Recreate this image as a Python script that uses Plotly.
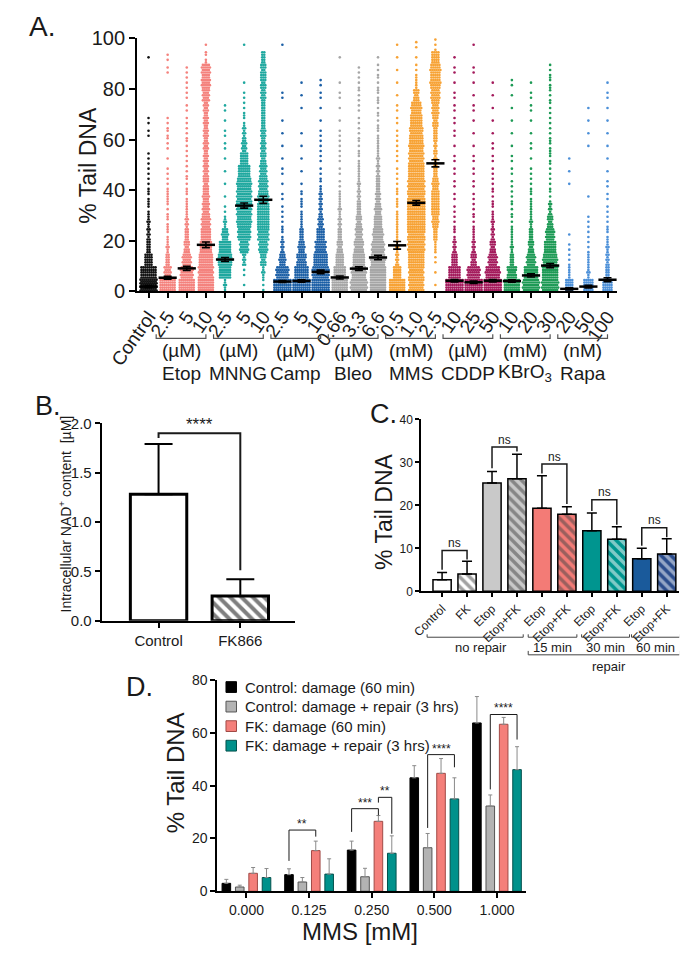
import numpy as np
import plotly.graph_objects as go

W, H = 685, 955
FONT = "Liberation Sans, Arial, Helvetica, sans-serif"
INK = "#1a1a1a"


def fx(p):
    return p / W


def fy(p):
    return 1 - p / H


# ---------------- Panel A data ----------------
a_ticklabels = ["Control", "2.5", "5", "10", "2.5", "5", "10", "2.5", "5", "10",
                "0.66", "3.3", "6.6", "0.5", "1.0", "2.5", "10", "25", "50",
                "10", "20", "30", "20", "50", "100"]
a_group_names = ["Etop", "MNNG", "Camp", "Bleo", "MMS", "CDDP", "KBrO<sub>3</sub>", "Rapa"]
a_group_units = ["(µM)", "(µM)", "(µM)", "(µM)", "(mM)", "(µM)", "(mM)", "(nM)"]
a_control_color = "#111111"
a_group_colors = ["#f4827d", "#1fa89f", "#1b5fa6", "#a6a6a6", "#f7a234", "#a3195b", "#1d9a55", "#4b8fd8"]
a_bin_width = 5  # % Tail DNA per histogram bin (0-5, 5-10, ... 95-100)

# number of comets per 5 % bin
counts_control = [60, 40, 20, 10, 8, 6, 4, 4, 3, 2, 3, 0, 2, 2, 0, 0, 0, 0, 1, 0]
counts_etop = [
    [40, 18, 10, 6, 4, 4, 3, 5, 3, 2, 1, 2, 4, 2, 0, 0, 0, 2, 2, 0],
    [40, 32, 22, 14, 10, 7, 5, 4, 3, 3, 2, 3, 3, 2, 2, 2, 3, 2, 0, 0],
    [40, 38, 35, 30, 25, 22, 18, 16, 14, 13, 12, 12, 12, 12, 12, 18, 22, 22, 4, 1],
]
counts_mnng = [
    [6, 30, 36, 30, 16, 6, 2, 1, 1, 1, 1, 2, 2, 1, 2, 0, 0, 0, 0, 0],
    [1, 2, 8, 22, 32, 36, 38, 38, 36, 30, 20, 12, 8, 4, 3, 2, 1, 0, 0, 1],
    [3, 6, 14, 22, 28, 30, 30, 26, 22, 18, 14, 12, 12, 10, 10, 12, 14, 14, 10, 0],
]
counts_camp = [
    [45, 32, 16, 8, 4, 3, 2, 2, 1, 2, 1, 1, 1, 1, 0, 2, 0, 0, 0, 1],
    [45, 35, 24, 16, 10, 5, 4, 4, 1, 1, 1, 1, 1, 0, 1, 1, 1, 0, 0, 0],
    [45, 42, 35, 28, 20, 12, 8, 7, 4, 2, 2, 3, 2, 1, 1, 2, 2, 0, 0, 0],
]
counts_bleo = [
    [40, 30, 20, 14, 10, 7, 6, 5, 2, 2, 2, 3, 2, 1, 1, 2, 1, 0, 1, 0],
    [42, 36, 30, 24, 18, 14, 10, 8, 6, 5, 4, 3, 3, 2, 2, 3, 3, 2, 0, 0],
    [40, 40, 36, 32, 26, 20, 16, 12, 10, 8, 6, 5, 4, 3, 3, 4, 3, 3, 1, 0],
]
counts_mms = [
    [40, 20, 8, 6, 5, 5, 4, 4, 3, 2, 2, 3, 2, 2, 2, 1, 1, 1, 1, 1],
    [38, 38, 40, 42, 44, 45, 45, 44, 42, 40, 38, 36, 34, 30, 26, 14, 5, 3, 1, 2],
    [1, 1, 2, 5, 10, 16, 20, 20, 16, 10, 8, 8, 10, 14, 18, 22, 26, 26, 20, 3],
]
counts_cddp = [
    [45, 30, 15, 8, 4, 3, 2, 2, 2, 2, 2, 1, 2, 2, 2, 2, 1, 2, 1, 0],
    [45, 32, 14, 8, 5, 3, 3, 2, 2, 2, 2, 1, 1, 1, 2, 1, 1, 2, 0, 1],
    [45, 36, 22, 14, 8, 6, 4, 3, 3, 2, 2, 2, 1, 1, 1, 1, 1, 0, 0, 0],
]
counts_kbro3 = [
    [40, 24, 10, 6, 5, 3, 3, 3, 2, 2, 2, 1, 1, 1, 1, 1, 2, 0, 0, 0],
    [42, 35, 22, 14, 10, 6, 5, 4, 3, 2, 1, 2, 1, 1, 2, 2, 1, 0, 0, 0],
    [42, 40, 36, 30, 22, 14, 8, 3, 3, 2, 4, 4, 3, 2, 3, 3, 4, 3, 0, 0],
]
counts_rapa = [
    [20, 5, 3, 2, 1, 0, 0, 0, 1, 1, 1, 0, 0, 0, 0, 0, 0, 0, 0, 0],
    [25, 6, 5, 3, 2, 3, 0, 1, 0, 0, 0, 1, 1, 1, 1, 0, 0, 0, 0, 0],
    [25, 10, 8, 6, 4, 3, 2, 2, 2, 1, 1, 1, 1, 1, 1, 2, 1, 0, 0, 0],
]
a_group_counts = [counts_etop, counts_mnng, counts_camp, counts_bleo,
                  counts_mms, counts_cddp, counts_kbro3, counts_rapa]

a_means = [1.9, 5.4, 9.1, 18.4, 12.6, 33.9, 36.2, 3.9, 4.1, 7.7, 5.5, 9.0, 13.4,
           18.2, 35.0, 50.6, 4.2, 3.6, 4.2, 4.1, 6.3, 10.2, 1.0, 1.9, 4.6]
a_sem = [0.4, 0.6, 0.8, 1.1, 0.8, 1.0, 1.4, 0.4, 0.5, 0.7, 0.6, 0.7, 0.9,
         1.5, 0.9, 1.4, 0.5, 0.5, 0.5, 0.5, 0.6, 0.8, 0.4, 0.5, 0.8]

# ---------------- Panel B data ----------------
b_labels = ["Control", "FK866"]
b_values = [1.28, 0.25]
b_err_top = [1.79, 0.42]

# ---------------- Panel C data ----------------
c_labels = ["Control", "FK", "Etop", "Etop+FK", "Etop", "Etop+FK", "Etop", "Etop+FK", "Etop", "Etop+FK"]
c_values = [2.7, 4.0, 25.2, 26.2, 19.3, 17.9, 14.1, 12.1, 7.6, 8.7]
c_err_top = [4.4, 7.0, 27.9, 31.9, 26.9, 19.7, 18.2, 15.0, 10.0, 12.2]
c_colors = ["#ffffff", "#ffffff", "#c9c9c9", "#c9c9c9", "#f37b76", "#f37b76",
            "#00958f", "#00958f", "#1a5a9b", "#2b4c8c"]
c_hatched = [False, True, False, True, False, True, False, True, False, True]

# ---------------- Panel D data ----------------
d_doses = ["0.000", "0.125", "0.250", "0.500", "1.000"]
d_names = ["Control: damage (60 min)", "Control: damage + repair (3 hrs)",
           "FK: damage (60 min)", "FK: damage + repair (3 hrs)"]
d_ctrl_damage = [3.0, 6.3, 15.6, 43.0, 63.8]
d_ctrl_damage_top = [4.5, 8.5, 19.0, 47.6, 73.8]
d_ctrl_repair = [1.6, 3.5, 5.5, 16.5, 32.3]
d_ctrl_repair_top = [2.3, 5.2, 8.7, 21.9, 36.5]
d_fk_damage = [6.8, 15.4, 26.5, 44.7, 63.3]
d_fk_damage_top = [9.0, 19.0, 28.7, 50.3, 65.9]
d_fk_repair = [5.2, 6.5, 14.4, 35.0, 46.1]
d_fk_repair_top = [8.6, 12.3, 21.0, 43.0, 54.8]
d_colors = ["#000000", "#b3b3b3", "#f47f7a", "#00918b"]
d_edge = ["#000000", "#555555", "#a04a46", "#03504c"]


# ---------------- helpers ----------------
def swarm_points(col, counts, dx=0.105, max_row=9):
    xs, ys = [], []
    for b, n in enumerate(counts):
        if n == 0:
            continue
        nrows = max(5, int(np.ceil(n / max_row)))
        rowh = a_bin_width / nrows
        per = {}
        if n <= nrows:
            for k in range(n):
                per[int((k + 0.5) * nrows / n)] = 1
        else:
            base, extra = divmod(n, nrows)
            extra_rows = set(int((k + 0.5) * nrows / extra) for k in range(extra)) if extra else set()
            for r in range(nrows):
                per[r] = base + (1 if r in extra_rows else 0)
        for r, k in per.items():
            yv = b * a_bin_width + (r + 0.5) * rowh
            for j in range(k):
                xs.append(col + (j - (k - 1) / 2) * dx)
                ys.append(yv)
    return xs, ys


fig = go.Figure()
shapes = []
annotations = []


def text(x, y, s, size, xref="paper", yref="paper", angle=0, xanchor="center", yanchor="middle"):
    annotations.append(dict(x=x, y=y, xref=xref, yref=yref, text=s, showarrow=False,
                            font=dict(family=FONT, size=size, color=INK), textangle=angle,
                            xanchor=xanchor, yanchor=yanchor))


def bracket(xa, xb, ytop, ya, yb, xref, yref, width=1.2, color=INK):
    shapes.append(dict(type="path", xref=xref, yref=yref,
                       path=f"M {xa},{ya} L {xa},{ytop} L {xb},{ytop} L {xb},{yb}",
                       line=dict(color=color, width=width)))


# ---------------- Panel A ----------------
col_counts = [counts_control] + [c for grp in a_group_counts for c in grp]
col_colors = [a_control_color] + [a_group_colors[g] for g in range(8) for _ in range(3)]
for i, (cnt, colr) in enumerate(zip(col_counts, col_colors)):
    xs, ys = swarm_points(i, cnt)
    fig.add_trace(go.Scatter(x=xs, y=ys, mode="markers", xaxis="x", yaxis="y",
                             marker=dict(size=2.6, color=colr), cliponaxis=False,
                             hoverinfo="skip", showlegend=False))
fig.add_trace(go.Scatter(x=list(range(len(a_means))), y=a_means, mode="markers",
                         xaxis="x", yaxis="y", showlegend=False, cliponaxis=False,
                         marker=dict(symbol="line-ew", size=13, line=dict(width=2.5, color="black")),
                         error_y=dict(type="data", array=a_sem, width=4, thickness=1.6, color="black")))

for g in range(8):
    first = 1 + 3 * g
    last = first + 2
    xa, xb = first - 0.6, last + 0.0
    shapes.append(dict(type="path", xref="x", yref="paper",
                       path=f"M {xa},{fy(331)} L {xa},{fy(335)} L {xb},{fy(335)} L {xb},{fy(331)}",
                       line=dict(color="#555555", width=1.2)))
    text((xa + xb) / 2, fy(348), a_group_units[g], 19, xref="x")
    text((xa + xb) / 2, fy(371), a_group_names[g], 19, xref="x")

text(fx(62), fy(158), "% Tail DNA", 23, angle=-90)
text(fx(14), fy(16), "A.", 28)

# ---------------- Panel B ----------------
fig.add_trace(go.Bar(x=[0, 1], y=b_values, width=0.69, xaxis="x2", yaxis="y2", showlegend=False,
                     marker=dict(color="white", line=dict(color="black", width=3),
                                 pattern=dict(shape=["", "\\"], fgcolor="black", bgcolor="white",
                                              fillmode="overlay", size=8, solidity=0.5)),
                     error_y=dict(type="data", symmetric=False,
                                  array=[t - v for t, v in zip(b_err_top, b_values)],
                                  arrayminus=[0, 0], width=14, thickness=2, color="black")))
bracket(0, 1, 1.90, 1.85, 0.51, "x2", "y2", width=2)
text(0.5, 1.99, "****", 17, xref="x2", yref="y2")
text(fx(38), fy(515), "Intracellular NAD<sup>+</sup> content  [µM]", 14, angle=-90)
text(fx(20), fy(404), "B.", 27)

# ---------------- Panel C ----------------
fig.add_trace(go.Bar(x=list(range(10)), y=c_values, width=0.73, xaxis="x3", yaxis="y3", showlegend=False,
                     marker=dict(color=c_colors, line=dict(color="black", width=1.5),
                                 pattern=dict(shape=["\\" if h else "" for h in c_hatched],
                                              fgcolor="black", bgcolor=c_colors,
                                              fillmode="overlay", size=7, solidity=0.5)),
                     error_y=dict(type="data", symmetric=False,
                                  array=[t - v for t, v in zip(c_err_top, c_values)],
                                  arrayminus=[0] * 10, width=5, thickness=1.5, color="black")))
c_ns = [(0, 9.5, 5.0, 7.4), (2, 33.6, 28.6, 32.5), (4, 29.6, 27.4, 20.3),
        (6, 21.3, 18.7, 15.5), (8, 14.8, 10.6, 12.6)]
for xi, top, la, lb in c_ns:
    bracket(xi, xi + 1, top, la, lb, "x3", "y3", width=1.5)
    text(xi + 0.5, top + 1.7, "ns", 12, xref="x3", yref="y3")

for xa, xb, lab in [(-0.6, 3.25, "no repair"), (3.45, 5.4, "15 min"),
                    (5.59, 7.51, "30 min"), (7.59, 9.54, "60 min")]:
    shapes.append(dict(type="path", xref="x3", yref="paper",
                       path=f"M {xa},{fy(638)} L {xa},{fy(641)} L {xb},{fy(641)} L {xb},{fy(638)}",
                       line=dict(color="#444444", width=1)))
    text((xa + xb) / 2 + (0.25 if lab == "no repair" else 0), fy(652), lab, 13, xref="x3")
shapes.append(dict(type="path", xref="x3", yref="paper",
                   path=f"M 3.45,{fy(655)} L 3.45,{fy(659)} L 9.54,{fy(659)} L 9.54,{fy(655)}",
                   line=dict(color="#444444", width=1)))
text(6.7, fy(671), "repair", 13, xref="x3")
text(fx(371), fy(512), "% Tail DNA", 23, angle=-90)
text(fx(371), fy(413), "C.", 27)

# ---------------- Panel D ----------------
d_vals = [d_ctrl_damage, d_ctrl_repair, d_fk_damage, d_fk_repair]
d_tops = [d_ctrl_damage_top, d_ctrl_repair_top, d_fk_damage_top, d_fk_repair_top]
d_centers = [-0.3206, -0.1069, 0.1069, 0.3206]
d_w = 0.137
for k in range(4):
    fig.add_trace(go.Bar(x=list(range(5)), y=d_vals[k], name=d_names[k], xaxis="x4", yaxis="y4",
                         width=d_w, offset=d_centers[k] - d_w / 2, showlegend=False,
                         marker=dict(color=d_colors[k], line=dict(color=d_edge[k], width=1)),
                         error_y=dict(type="data", symmetric=False,
                                      array=[t - v for t, v in zip(d_tops[k], d_vals[k])],
                                      arrayminus=[0] * 5, width=2, thickness=1, color="#8a8a8a")))

d_sig = [
    (1 + d_centers[0], 1 + d_centers[2], 23.2, 11.5, 20.7, "**"),
    (2 + d_centers[0], 2 + d_centers[2], 31.3, 22.5, 28.8, "***"),
    (2 + d_centers[2], 2 + d_centers[3], 35.6, 33.6, 21.8, "**"),
    (3 + d_centers[1], 3 + d_centers[3], 51.8, 24.0, 47.0, "****"),
    (4 + d_centers[1], 4 + d_centers[3], 67.0, 38.6, 57.5, "****"),
]
for xa, xb, top, la, lb, s in d_sig:
    bracket(xa, xb, top, la, lb, "x4", "y4", width=1)
    text((xa + xb) / 2, top + 2.3, s, 12, xref="x4", yref="y4")

for k, ry in enumerate([692, 712, 732, 752]):
    shapes.append(dict(type="rect", xref="paper", yref="paper",
                       x0=fx(206), x1=fx(217), y0=fy(ry + 5.5), y1=fy(ry - 5.5),
                       fillcolor=d_colors[k], line=dict(color=d_edge[k] if k else "black", width=1)))
    text(fx(224), fy(ry), d_names[k], 15, xanchor="left")

text(fx(153), fy(780), "% Tail DNA", 24, angle=-90)
text(fx(346), fy(942), "MMS [mM]", 24)
text(fx(116), fy(692), "D.", 27)

# ---------------- layout ----------------
axis_common = dict(showgrid=False, zeroline=False, showline=True, linecolor="black",
                   ticks="outside", tickcolor="black", color=INK)

fig.update_layout(
    width=W, height=H, autosize=False,
    margin=dict(l=0, r=0, t=0, b=0),
    paper_bgcolor="white", plot_bgcolor="white",
    font=dict(family=FONT, color=INK),
    barmode="overlay", showlegend=False,
    xaxis=dict(domain=[fx(113), fx(615)], range=[-0.6, 24.5], anchor="y",
               tickvals=list(range(25)), ticktext=a_ticklabels, tickangle=-55,
               tickfont=dict(size=19), ticklen=5, tickwidth=2, linewidth=2, **axis_common),
    yaxis=dict(domain=[fy(287), fy(28)], range=[0, 100], anchor="x",
               tickvals=[0, 20, 40, 60, 80, 100], tickfont=dict(size=20),
               ticklen=6, tickwidth=2, linewidth=2, **axis_common),
    xaxis2=dict(domain=[fx(76), fx(278)], range=[-0.696, 1.667], anchor="y2",
                tickvals=[0, 1], ticktext=b_labels, tickfont=dict(size=15),
                ticklen=5, tickwidth=2, linewidth=2, **axis_common),
    yaxis2=dict(domain=[fy(624), fy(422)], range=[0, 2], anchor="x2",
                tickvals=[0, 0.5, 1.0, 1.5, 2.0], tickformat=".1f", tickfont=dict(size=15),
                ticklen=5, tickwidth=2, linewidth=2, **axis_common),
    xaxis3=dict(domain=[fx(410), fx(680)], range=[-0.843, 9.5], anchor="y3",
                tickvals=list(range(10)), ticktext=c_labels, tickangle=-45, tickfont=dict(size=12),
                ticklen=4, tickwidth=1.5, linewidth=1.5, **axis_common),
    yaxis3=dict(domain=[fy(594), fy(418)], range=[0, 40], anchor="x3",
                tickvals=[0, 10, 20, 30, 40], tickfont=dict(size=12),
                ticklen=4, tickwidth=1.5, linewidth=1.5, **axis_common),
    xaxis4=dict(domain=[fx(197), fx(520)], range=[-0.464, 4.467], anchor="y4",
                tickvals=list(range(5)), ticktext=d_doses, tickfont=dict(size=14),
                ticklen=5, tickwidth=2, linewidth=2, **axis_common),
    yaxis4=dict(domain=[fy(901), fy(685)], range=[0, 80], anchor="x4",
                tickvals=[0, 20, 40, 60, 80], tickfont=dict(size=14),
                ticklen=5, tickwidth=2, linewidth=2, **axis_common),
    shapes=shapes, annotations=annotations,
)

fig.write_html("out.html", config={"displayModeBar": False},
               post_script="document.body.style.margin='0';")
